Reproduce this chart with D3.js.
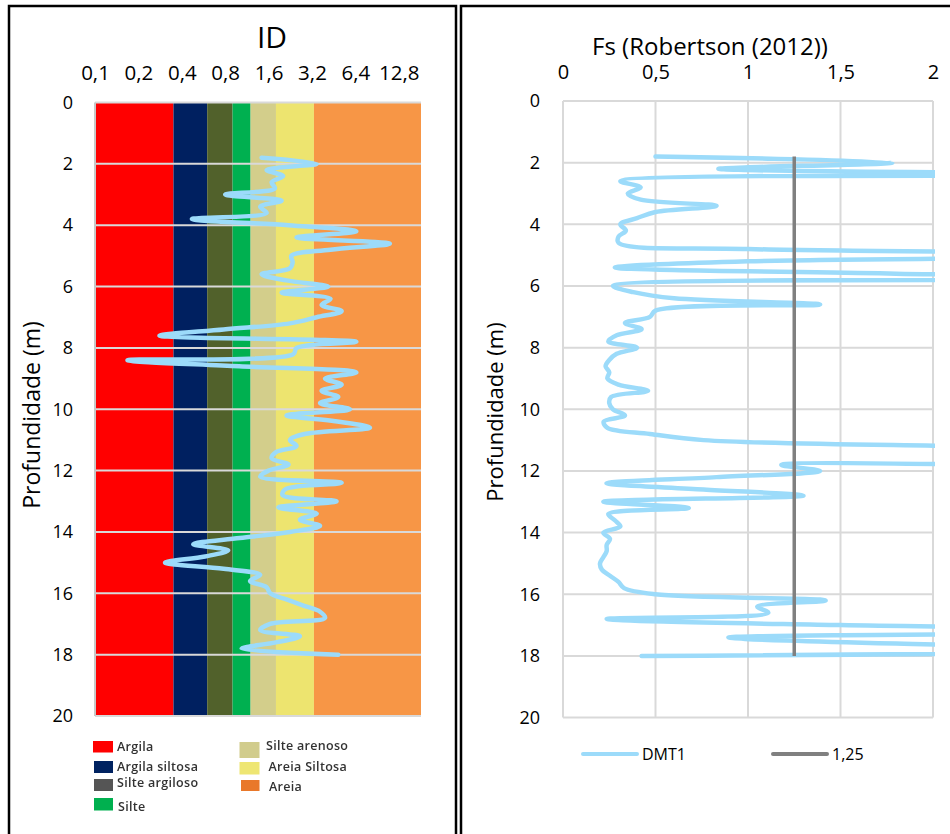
<!DOCTYPE html>
<html>
<head>
<meta charset="utf-8">
<script src="https://cdn.jsdelivr.net/npm/d3@7"></script>
<style>
  body { margin: 0; background: #fff; }
  text { font-family: "Open Sans", "Liberation Sans", sans-serif; fill: #000; }
</style>
</head>
<body>
<svg id="chart" width="950" height="834"></svg>
<script>
// DMT sounding depths (m)
const depths = [1.8, 2.0, 2.2, 2.4, 2.6, 2.8, 3.0, 3.2, 3.4, 3.6,
  3.8, 4.0, 4.2, 4.4, 4.6, 4.8, 5.0, 5.2, 5.4, 5.6,
  5.8, 6.0, 6.2, 6.4, 6.6, 6.8, 7.0, 7.2, 7.4, 7.6,
  7.8, 8.0, 8.2, 8.4, 8.6, 8.8, 9.0, 9.2, 9.4, 9.6,
  9.8, 10.0, 10.2, 10.4, 10.6, 10.8, 11.0, 11.2, 11.4, 11.6,
  11.8, 12.0, 12.2, 12.4, 12.6, 12.8, 13.0, 13.2, 13.4, 13.6,
  13.8, 14.0, 14.2, 14.4, 14.6, 14.8, 15.0, 15.2, 15.4, 15.6,
  15.8, 16.0, 16.2, 16.4, 16.6, 16.8, 17.0, 17.2, 17.4, 17.6,
  17.8, 18.0];

// Material index ID
const idValues = [1.43, 3.45, 1.55, 2.02, 1.68, 1.77, 0.80, 1.97, 1.40, 1.55,
  0.47, 2.2, 6.5, 2.5, 11.1, 4.3, 2.3, 2.35, 2.25, 1.43,
  2.13, 4.15, 1.97, 4.3, 3.73, 5.14, 3.45, 2.25, 0.78, 0.28,
  6.5, 2.5, 2.38, 0.168, 1.0, 6.5, 3.94, 5.14, 3.73, 4.87,
  3.64, 5.87, 2.13, 4.8, 8.08, 2.9, 2.25, 2.5, 1.8, 1.68,
  2.2, 1.6, 1.40, 5.14, 2.1, 2.0, 4.74, 1.87, 3.45, 2.64,
  3.64, 2.25, 1.01, 0.48, 0.84, 0.58, 0.306, 0.78, 1.40, 1.19,
  1.55, 1.64, 2.13, 2.79, 3.64, 3.94, 1.64, 1.40, 2.64, 1.8,
  1.04, 4.87];

// Factor of safety, Robertson (2012)
const fsValues = [0.50, 1.78, 0.84, 3.0, 0.31, 0.42, 0.35, 0.42, 0.83, 0.50,
  0.40, 0.31, 0.34, 0.30, 0.30, 1.0, 4.0, 1.0, 0.28, 1.8,
  4.0, 0.27, 0.38, 0.6, 1.39, 0.50, 0.47, 0.335, 0.425, 0.29,
  0.245, 0.40, 0.29, 0.25, 0.23, 0.25, 0.24, 0.30, 0.46, 0.26,
  0.25, 0.27, 0.335, 0.22, 0.24, 0.47, 0.76, 2.2, 5.0, 5.0,
  1.18, 1.39, 0.83, 0.235, 0.76, 1.30, 0.218, 0.68, 0.245, 0.28,
  0.31, 0.218, 0.254, 0.236, 0.236, 0.218, 0.20, 0.21, 0.254, 0.30,
  0.33, 0.50, 1.42, 1.05, 1.11, 0.236, 1.5, 4.0, 0.894, 1.8,
  4.0, 0.425];

const fsLimit = 1.25;
const fsLimitDepths = [1.8, 18.0];

const idTicks = [0.1, 0.2, 0.4, 0.8, 1.6, 3.2, 6.4, 12.8];
const fsTicks = [0, 0.5, 1, 1.5, 2];
const depthTicks = [0, 2, 4, 6, 8, 10, 12, 14, 16, 18, 20];

// Soil classes by ID (Marchetti)
const soilClasses = ["Argila", "Argila siltosa", "Silte argiloso", "Silte", "Silte arenoso", "Areia Siltosa", "Areia"];
const soilBounds = [0.1, 0.35, 0.6, 0.9, 1.2, 1.8, 3.3, 18.25];
const soilColors = ["#ff0000", "#002060", "#51612b", "#00b050", "#d3ce8b", "#ede46f", "#f79646"];
const legendColors = ["#ff0000", "#002060", "#555555", "#00b050", "#d1cc8c", "#eee673", "#e9782a"];

const comma = v => String(v).replace(".", ",");
const svg = d3.select("#chart");
svg.append("rect").attr("width", 950).attr("height", 834).attr("fill", "#fff");

const defs = svg.append("defs");
defs.append("filter").attr("id", "soft").append("feGaussianBlur").attr("stdDeviation", 0.55);

// ---------- Left panel: ID ----------
const xId = d3.scaleLog().base(2).domain([0.1, 18.25]).range([95, 421]);
const yL = d3.scaleLinear().domain([0, 20]).range([102.5, 716]);

const left = svg.append("g");
left.selectAll("rect.band").data(soilClasses).join("rect")
  .attr("class", "band")
  .attr("x", (d, i) => xId(soilBounds[i]))
  .attr("width", (d, i) => xId(soilBounds[i + 1]) - xId(soilBounds[i]))
  .attr("y", yL(0)).attr("height", yL(20) - yL(0))
  .attr("fill", (d, i) => soilColors[i]);

left.selectAll("line.hgrid").data(depthTicks).join("line")
  .attr("class", "hgrid")
  .attr("x1", xId.range()[0]).attr("x2", xId.range()[1])
  .attr("y1", d => yL(d)).attr("y2", d => yL(d))
  .attr("stroke", "#d9d9d9").attr("stroke-width", 2);
left.append("line")
  .attr("x1", xId.range()[0]).attr("x2", xId.range()[0])
  .attr("y1", yL(0)).attr("y2", yL(20))
  .attr("stroke", "#c8c8c8").attr("stroke-width", 2);

const idSeries = depths.map((d, i) => ({ d, v: idValues[i] }));
left.append("path").datum(idSeries)
  .attr("fill", "none").attr("stroke", "#9cdbfa").attr("stroke-width", 4.5)
  .attr("stroke-linejoin", "round").attr("stroke-linecap", "round")
  .attr("d", d3.line().x(p => xId(p.v)).y(p => yL(p.d)).curve(d3.curveCatmullRom.alpha(0.5)));

const axIdTop = left.append("g").attr("transform", "translate(0,80)")
  .call(d3.axisTop(xId).tickValues(idTicks).tickFormat(comma).tickSize(0).tickPadding(0));
axIdTop.select(".domain").remove();
axIdTop.selectAll("text").attr("font-size", 20.5).attr("font-family", "Open Sans").attr("fill", "#000");

const axDepL = left.append("g").attr("transform", "translate(73,0)")
  .call(d3.axisLeft(yL).tickValues(depthTicks).tickFormat(d3.format("d")).tickSize(0).tickPadding(0));
axDepL.select(".domain").remove();
axDepL.selectAll("text").attr("font-size", 18).attr("font-family", "Open Sans").attr("fill", "#000");

left.append("text").attr("x", 272).attr("y", 48).attr("text-anchor", "middle")
  .attr("font-size", 30).text("ID");
left.append("text").attr("transform", "translate(40,415) rotate(-90)")
  .attr("text-anchor", "middle").attr("font-size", 23).text("Profundidade (m)");

// Soil class legend
const legendPos = [
  { sx: 93, sy: 741, sw: 20, sh: 11.5, tx: 117, ty: 751 },
  { sx: 94, sy: 761, sw: 19, sh: 12, tx: 117, ty: 771 },
  { sx: 94, sy: 779, sw: 19, sh: 12, tx: 117, ty: 787 },
  { sx: 94, sy: 798, sw: 19, sh: 12.5, tx: 118, ty: 811 },
  { sx: 239.5, sy: 742, sw: 20, sh: 16, tx: 266, ty: 750 },
  { sx: 239.5, sy: 762, sw: 20, sh: 12.5, tx: 268.5, ty: 771 },
  { sx: 241, sy: 780, sw: 18.5, sh: 11, tx: 269, ty: 791 }
];
const legL = left.append("g").attr("filter", "url(#soft)");
legL.selectAll("rect").data(soilClasses).join("rect")
  .attr("x", (d, i) => legendPos[i].sx).attr("y", (d, i) => legendPos[i].sy)
  .attr("width", (d, i) => legendPos[i].sw).attr("height", (d, i) => legendPos[i].sh)
  .attr("fill", (d, i) => legendColors[i]);
legL.selectAll("text").data(soilClasses).join("text")
  .attr("x", (d, i) => legendPos[i].tx).attr("y", (d, i) => legendPos[i].ty)
  .attr("font-size", 12.5).attr("font-weight", 600).attr("letter-spacing", 0.3)
  .style("fill", "#333").text(d => d);

// ---------- Right panel: Fs ----------
const xFs = d3.scaleLinear().domain([0, 2]).range([563, 933]);
const yR = d3.scaleLinear().domain([0, 20]).range([101, 717.6]);

const right = svg.append("g");
right.selectAll("line.vgrid").data(fsTicks).join("line")
  .attr("class", "vgrid")
  .attr("x1", d => xFs(d)).attr("x2", d => xFs(d))
  .attr("y1", yR(0)).attr("y2", yR(20))
  .attr("stroke", "#d9d9d9").attr("stroke-width", 2);
right.selectAll("line.hgrid").data(depthTicks).join("line")
  .attr("class", "hgrid")
  .attr("x1", xFs(0)).attr("x2", xFs(2))
  .attr("y1", d => yR(d)).attr("y2", d => yR(d))
  .attr("stroke", "#d9d9d9").attr("stroke-width", 2);

defs.append("clipPath").attr("id", "fsClip").append("rect")
  .attr("x", xFs(0) - 3).attr("y", yR(0) - 3)
  .attr("width", xFs(2) - xFs(0) + 5).attr("height", yR(20) - yR(0) + 6);

const fsSeries = depths.map((d, i) => ({ d, v: fsValues[i] }));
right.append("path").datum(fsSeries).attr("clip-path", "url(#fsClip)")
  .attr("fill", "none").attr("stroke", "#9cdbfa").attr("stroke-width", 4.5)
  .attr("stroke-linejoin", "round").attr("stroke-linecap", "round")
  .attr("d", d3.line().x(p => xFs(p.v)).y(p => yR(p.d)).curve(d3.curveCatmullRom.alpha(0.5)));

right.append("path").datum(fsLimitDepths)
  .attr("fill", "none").attr("stroke", "#808080").attr("stroke-width", 3.5)
  .attr("d", d3.line().x(() => xFs(fsLimit)).y(d => yR(d)));

const axFsTop = right.append("g").attr("transform", "translate(0,79)")
  .call(d3.axisTop(xFs).tickValues(fsTicks).tickFormat(comma).tickSize(0).tickPadding(0));
axFsTop.select(".domain").remove();
axFsTop.selectAll("text").attr("font-size", 20).attr("font-family", "Open Sans").attr("fill", "#000");

const axDepR = right.append("g").attr("transform", "translate(540,0)")
  .call(d3.axisLeft(yR).tickValues(depthTicks).tickFormat(d3.format("d")).tickSize(0).tickPadding(0));
axDepR.select(".domain").remove();
axDepR.selectAll("text").attr("font-size", 18).attr("font-family", "Open Sans").attr("fill", "#000");

right.append("text").attr("x", 710).attr("y", 55).attr("text-anchor", "middle")
  .attr("font-size", 24).text("Fs (Robertson (2012))");
right.append("text").attr("transform", "translate(503,412) rotate(-90)")
  .attr("text-anchor", "middle").attr("font-size", 22).text("Profundidade (m)");

// Series legend
const seriesLegend = [
  { name: "DMT1", color: "#9cdbfa", x: 583 },
  { name: comma(fsLimit), color: "#808080", x: 773 }
];
const legR = right.selectAll("g.leg").data(seriesLegend).join("g").attr("class", "leg");
legR.append("line")
  .attr("x1", d => d.x).attr("x2", d => d.x + 54).attr("y1", 754).attr("y2", 754)
  .attr("stroke", d => d.color).attr("stroke-width", 4).attr("stroke-linecap", "round");
legR.append("text").attr("x", d => d.x + 59).attr("y", 760)
  .attr("font-size", 16).text(d => d.name);

// Panel frames
svg.append("rect").attr("x", 9).attr("y", 6).attr("width", 447).attr("height", 860)
  .attr("fill", "none").attr("stroke", "#000").attr("stroke-width", 2.5);
svg.append("rect").attr("x", 461).attr("y", 6).attr("width", 520).attr("height", 860)
  .attr("fill", "none").attr("stroke", "#000").attr("stroke-width", 2.5);
</script>
</body>
</html>
